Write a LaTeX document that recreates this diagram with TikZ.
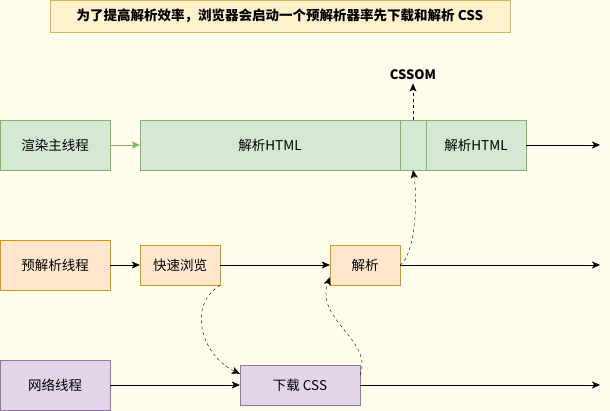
\documentclass[tikz,border=0pt]{standalone}
\usepackage{fontspec}
\setmainfont{Noto Sans CJK SC}
\usetikzlibrary{arrows.meta}
\definecolor{paper yellow}{rgb}{1.0, 0.992, 0.922}
\definecolor{note fill}{HTML}{FFF2CC}
\definecolor{note line}{HTML}{D6B656}
\definecolor{main fill}{HTML}{D5E8D4}
\definecolor{main line}{HTML}{82B366}
\definecolor{pre fill}{HTML}{FFE6CC}
\definecolor{pre line}{HTML}{D79B00}
\definecolor{net fill}{HTML}{E1D5E7}
\definecolor{net line}{HTML}{9673A6}
\tikzset{
	box/.style = {draw, rectangle, inner sep = 0pt, font = \fontsize{13.5}{16}\selectfont},
	mainbox/.style = {box, fill = main fill, draw = main line, minimum height = 50pt},
	prebox/.style = {box, fill = pre fill, draw = pre line},
	netbox/.style = {box, fill = net fill, draw = net line},
	flow/.style = {-{Stealth[length = 8pt, width = 7pt, inset = 2pt]}, thin},
	hint/.style = {flow, dash pattern = on 3pt off 3pt}
}

\begin{document}
\begin{tikzpicture}[x = 1pt, y = -1pt]
			% background
			\fill[paper yellow] (0, 0) rectangle (610, 411);
			\useasboundingbox (0, 0) rectangle (610, 411);
			% note on top
			\node[box, fill = note fill, draw = note line, minimum width = 460pt, minimum height = 32pt, font = \fontsize{13.5}{16}\selectfont\bfseries] (note) at (280, 16) {为了提高解析效率，浏览器会启动一个预解析器率先下载和解析 CSS};
			\node[font = \fontsize{13}{16}\selectfont\bfseries] (cssom) at (413, 75) {CSSOM};
			% main thread
			\node[mainbox, minimum width = 110pt] (mainlbl) at (55, 145) {渲染主线程};
			\node[mainbox, minimum width = 260pt] (html1) at (270, 145) {解析HTML};
			\node[mainbox, minimum width = 26pt] (gap) at (413, 145) {};
			\node[mainbox, minimum width = 100pt] (html2) at (476, 145) {解析HTML};
			\coordinate (mainend) at (600, 145);
			% preload thread
			\node[prebox, minimum width = 110pt, minimum height = 50pt] (prelbl) at (55, 265) {预解析线程};
			\node[prebox, minimum width = 80pt, minimum height = 40pt] (scan) at (180, 265) {快速浏览};
			\node[prebox, minimum width = 70pt, minimum height = 40pt] (parse) at (365, 265) {解析};
			\coordinate (preend) at (600, 265);
			% network thread
			\node[netbox, minimum width = 110pt, minimum height = 50pt] (netlbl) at (55, 385) {网络线程};
			\node[netbox, minimum width = 120pt, minimum height = 40pt] (fetch) at (300, 385) {下载 CSS};
			\coordinate (netend) at (600, 385);
			% timelines
			\draw[flow, main line] (mainlbl) -- (html1);
			\draw[flow] (html2) -- (mainend);
			\draw[flow] (prelbl) -- (scan);
			\draw[flow] (scan) -- (parse);
			\draw[flow] (parse) -- (preend);
			\draw[flow] (netlbl) -- (fetch);
			\draw[flow] (fetch) -- (netend);
			% dashed hand-overs
			\draw[hint] (scan.south east) .. controls (187, 305) and (201, 355) .. ([yshift = -9pt]fetch.north west);
			\draw[hint] ([yshift = -10pt]fetch.north east) .. controls (373, 340) and (315, 320) .. ([yshift = 8pt]parse.south west);
			\draw[hint] (parse.east) .. controls (415, 255) and (418, 200) .. (gap.south);
			\draw[hint] (gap.north) -- (cssom.south);
		\end{tikzpicture}
\end{document}
